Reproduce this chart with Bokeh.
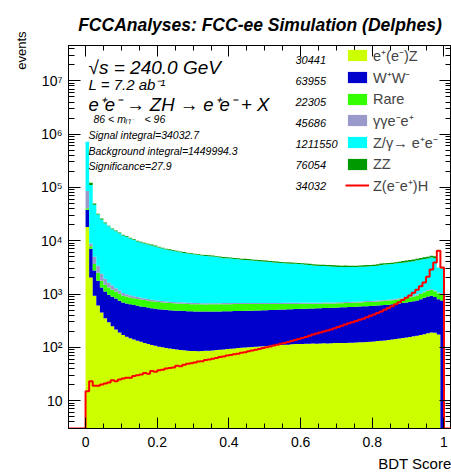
import numpy as np
from bokeh.plotting import figure
from bokeh.models import (Range1d, LinearAxis, LogAxis, SingleIntervalTicker, LogTicker,
                          CustomJSTickFormatter, Label, Legend, LegendItem, Title)
from bokeh.embed import file_html
from bokeh.resources import INLINE

# ---------------- data ----------------
bin_edges = [round(i * 0.01, 2) for i in range(101)]

ez = [18000, 2040, 930, 610, 450, 350, 295, 248, 215, 190,
      170, 158, 148, 140, 133, 127, 121, 116, 111, 107,
      103, 100, 97, 95, 93, 91, 89, 88, 86, 85,
      85, 84, 85, 86, 86, 87, 89, 90, 91, 93,
      94, 95, 97, 98, 99, 100, 101, 103, 104, 105,
      106, 107, 109, 110, 111, 112, 112, 114, 115, 116,
      116, 117, 117, 118, 117, 118, 119, 118, 119, 120,
      120, 121, 121, 122, 122, 123, 124, 125, 126, 127,
      129, 131, 133, 135, 137, 140, 143, 146, 150, 153,
      157, 161, 165, 170, 176, 183, 190, 188, 175, 0]

ww = [20000, 5060, 1820, 1170, 870, 760, 675, 642, 605, 560,
      520, 507, 492, 480, 467, 458, 449, 440, 432, 425,
      417, 412, 408, 403, 400, 397, 395, 392, 391, 389,
      387, 386, 385, 383, 384, 383, 382, 382, 382, 382,
      382, 383, 383, 384, 385, 386, 387, 388, 389, 391,
      392, 394, 395, 397, 399, 401, 404, 405, 407, 409,
      412, 414, 417, 419, 423, 425, 427, 431, 433, 435,
      438, 441, 445, 448, 452, 455, 458, 462, 466, 470,
      474, 478, 482, 487, 493, 500, 509, 519, 530, 542,
      555, 569, 595, 630, 674, 717, 740, 692, 625, 760]

rare = [2500, 800, 900, 720, 460, 390, 350, 310, 290, 270,
        240, 230, 222, 215, 208, 203, 199, 195, 191, 188,
        185, 183, 181, 179, 177, 176, 175, 174, 173, 172,
        171, 171, 170, 170, 171, 170, 171, 171, 171, 170,
        170, 169, 168, 166, 165, 163, 160, 158, 155, 153,
        150, 148, 145, 143, 140, 138, 135, 133, 130, 128,
        126, 124, 122, 120, 118, 116, 115, 114, 113, 112,
        112, 112, 112, 112, 112, 112, 113, 113, 114, 115,
        116, 118, 120, 122, 125, 128, 132, 137, 142, 148,
        155, 165, 180, 200, 225, 250, 260, 250, 230, 240]

gg = [45000, 1000, 1350, 900, 620, 430, 310, 240, 170, 140,
      110, 95, 85, 75, 68, 62, 57, 53, 50, 47,
      45, 42, 41, 40, 40, 39, 39, 38, 38, 37,
      37, 35, 34, 34, 33, 33, 33, 32, 32, 32,
      32, 32, 32, 32, 32, 32, 32, 32, 32, 32,
      32, 32, 32, 32, 32, 32, 32, 32, 32, 32,
      32, 30, 30, 30, 30, 30, 30, 30, 30, 30,
      30, 30, 30, 30, 30, 30, 30, 30, 30, 30,
      30, 30, 30, 30, 30, 30, 30, 30, 30, 30,
      30, 38, 38, 38, 38, 38, 38, 38, 38, 38]

zg = [633000, 102100, 42200, 27500, 22700, 19270, 16970, 14940, 13750, 12610,
      11560, 10830, 10090, 9450, 8800, 8440, 8070, 7710, 7390, 7060,
      6740, 6410, 6120, 5940, 5750, 5560, 5370, 5220, 5070, 4950,
      4830, 4710, 4590, 4510, 4430, 4370, 4250, 4150, 4040, 3990,
      3940, 3870, 3800, 3730, 3690, 3640, 3580, 3520, 3450, 3410,
      3360, 3300, 3240, 3180, 3130, 3090, 3060, 3030, 3000, 2960,
      2920, 2870, 2820, 2760, 2720, 2680, 2650, 2630, 2600, 2560,
      2520, 2500, 2510, 2500, 2490, 2490, 2510, 2530, 2550, 2570,
      2600, 2650, 2740, 2790, 2820, 2850, 2910, 2970, 3030, 3090,
      3140, 3210, 3310, 3370, 3450, 3460, 3600, 3530, 2000, 1920]

zz = [1500, 12000, 2500, 1300, 900, 700, 600, 520, 470, 430,
      400, 380, 360, 340, 320, 310, 300, 290, 280, 270,
      260, 255, 250, 245, 240, 235, 230, 225, 222, 220,
      218, 216, 215, 214, 213, 212, 211, 210, 209, 208,
      207, 206, 205, 204, 203, 202, 201, 200, 200, 199,
      198, 197, 196, 195, 195, 194, 194, 193, 193, 192,
      192, 192, 192, 192, 192, 192, 192, 192, 192, 192,
      193, 193, 194, 195, 196, 197, 198, 200, 202, 204,
      207, 210, 214, 218, 223, 230, 240, 250, 262, 275,
      290, 305, 320, 340, 360, 380, 420, 400, 60, 40]

zh = [15, 23, 19, 19, 20, 21, 22, 24, 23, 25,
      26, 27, 27, 29, 30, 31, 33, 32, 36, 35,
      37, 38, 40, 41, 42, 45, 44, 47, 49, 50,
      52, 54, 55, 58, 59, 61, 63, 66, 67, 70,
      72, 74, 76, 79, 81, 84, 87, 90, 93, 97,
      100, 104, 108, 112, 117, 121, 126, 131, 137, 143,
      149, 156, 165, 174, 182, 190, 198, 206, 216, 228,
      240, 254, 268, 282, 296, 312, 328, 345, 366, 390,
      415, 440, 470, 505, 545, 590, 640, 700, 770, 850,
      940, 1060, 1200, 1400, 1650, 2100, 2900, 3900, 6500, 3150]

series_names = ["e\u207a(e\u207b)Z", "W\u207aW\u207b", "Rare", "\u03b3\u03b3e\u207be\u207a",
                "Z/\u03b3\u2192 e\u207ae\u207b", "ZZ"]
signal_name = "Z(e\u207be\u207a)H"
legend_counts = ["30441", "63955", "22305", "45686", "1211550", "76054", "34032"]
colors = ["#ccff00", "#0000cc", "#33ff00", "#9999cc", "#00ffff", "#009900"]
signal_color = "#ff0000"

x_ticks_interval = 0.2

# ---------------- figure ----------------
FONT = "Liberation Sans"
Y_START, Y_END = 3.0, 4.6e7
p = figure(width=451, height=475, x_range=Range1d(-0.0476, 1.021),
           y_range=Range1d(Y_START, Y_END), y_axis_type="log",
           output_backend="svg", toolbar_location=None,
           title="FCCAnalyses: FCC-ee Simulation (Delphes)",
           min_border_left=68, min_border_right=0, min_border_top=45, min_border_bottom=47)
p.title.align = "center"
p.title.offset = 3
p.title.standoff = 22
p.title.text_font = FONT
p.title.text_font_size = "17.5px"
p.title.text_font_style = "bold italic"
p.title.text_color = "black"
p.grid.visible = False
p.outline_line_color = "black"
p.background_fill_color = "white"
p.border_fill_color = "white"

edges = np.array(bin_edges)
stack = [ez, ww, rare, gg, zg, zz]
cum = np.zeros(len(ez))
floor = 1.0
area_renderers = []
for vals, col in zip(stack, colors):
    v = np.array(vals, dtype=float)
    bottom = np.maximum(cum, floor)
    top = np.maximum(cum + v, floor)
    cum = cum + v
    y1 = np.append(bottom, bottom[-1])
    y2 = np.append(top, top[-1])
    r = p.varea_step(x=edges, y1=y1, y2=y2, step_mode="after", fill_color=col)
    area_renderers.append(r)

sig = np.array(zh, dtype=float)
sx = np.concatenate([[-0.2], edges[:-1], [1.0, 1.2]])
sy = np.concatenate([[Y_START], sig, [Y_START, Y_START]])
sig_r = p.step(x=sx, y=sy, mode="after", line_color=signal_color, line_width=2)

# ---------------- axes ----------------
xt = SingleIntervalTicker(interval=x_ticks_interval, num_minor_ticks=4)
xax = p.xaxis[0]
xax.ticker = xt
xax.formatter = CustomJSTickFormatter(code="return (Math.round(tick*10)/10).toString();")
yax = p.yaxis[0]
yax.ticker = LogTicker(num_minor_ticks=10)
yax.formatter = CustomJSTickFormatter(code="""
const e = Math.round(Math.log10(tick));
if (e == 1) { return "10"; }
const sup = {"0":"\u2070","1":"\u00b9","2":"\u00b2","3":"\u00b3","4":"\u2074","5":"\u2075","6":"\u2076","7":"\u2077","8":"\u2078","9":"\u2079","-":"\u207b"};
return "10" + String(e).split("").map(c => sup[c]).join("");
""")
for ax in (xax, yax):
    ax.major_tick_out = 0
    ax.minor_tick_out = 0
    ax.major_label_text_font = FONT
    ax.major_label_text_font_size = "14px"
    ax.major_label_text_color = "black"
    ax.axis_line_color = "black"
    ax.major_tick_line_color = "black"
    ax.minor_tick_line_color = "black"
xax.major_tick_in = 11
xax.minor_tick_in = 5
xax.major_label_standoff = 8
yax.major_tick_in = 12
yax.minor_tick_in = 6
yax.major_label_standoff = 6

top_ax = LinearAxis(ticker=SingleIntervalTicker(interval=x_ticks_interval, num_minor_ticks=4),
                    formatter=CustomJSTickFormatter(code="return '.';"),
                    major_label_text_font_size="1px", major_label_text_alpha=0,
                    major_label_standoff=0,
                    major_tick_in=11, major_tick_out=0, minor_tick_in=5, minor_tick_out=0)
p.add_layout(top_ax, "above")
right_ax = LogAxis(ticker=LogTicker(num_minor_ticks=10),
                   formatter=CustomJSTickFormatter(code="return '.';"),
                   major_label_text_font_size="1px", major_label_text_alpha=0,
                   major_label_standoff=0,
                   major_tick_in=12, major_tick_out=0, minor_tick_in=6, minor_tick_out=0)
p.add_layout(right_ax, "right")

# axis titles (ROOT style: at the far end of each axis)
p.add_layout(Title(text="events", align="right", offset=-14, standoff=18, text_font=FONT,
                   text_font_size="13px", text_font_style="normal", text_color="black"), "left")
p.add_layout(Title(text="BDT Score", align="right", offset=0, standoff=6, text_font=FONT,
                   text_font_size="15px", text_font_style="normal", text_color="black"), "below")

# ---------------- legend ----------------
items = [LegendItem(label=n, renderers=[r]) for n, r in zip(series_names, area_renderers)]
items.append(LegendItem(label=signal_name, renderers=[sig_r]))
legend = Legend(items=items, location=(277, 233), glyph_width=24, glyph_height=14,
                label_text_font=FONT, label_text_font_size="14.5px", label_standoff=4,
                spacing=2, label_height=19, padding=0, margin=0,
                border_line_color=None, background_fill_alpha=0)
p.add_layout(legend)

FL, FB = 68, 428  # frame left / bottom in canvas px


def txt(text, cx, cy, size, style="italic", align="left", baseline="alphabetic"):
    p.add_layout(Label(x=cx - FL, y=FB - cy, x_units="screen", y_units="screen", text=text,
                       text_font=FONT, text_font_size=size, text_font_style=style,
                       text_align=align, text_baseline=baseline, text_color="black"))


row0, pitch = 59.5, 21
for i, c in enumerate(legend_counts):
    txt(c, 295, row0 + i * pitch, "11px", baseline="middle")

txt("\u221as = 240.0 GeV", 88, 67, "19px")
txt("L = 7.2 ab\u207b\u00b9", 88, 84, "15px")
txt("e\u207ae\u207b \u2192 ZH \u2192 e\u207ae\u207b + X", 88, 104, "18.5px")
txt("86 < m", 93, 118, "10.5px")
txt("l\u207al\u207b", 125, 121, "7px")
txt("< 96", 144, 118, "10.5px")
txt("Signal integral=34032.7", 88, 134, "10.5px")
txt("Background integral=1449994.3", 88, 150, "10.5px")
txt("Significance=27.9", 88, 165, "10.5px")

open("out.html", "w").write(file_html(p, INLINE))
